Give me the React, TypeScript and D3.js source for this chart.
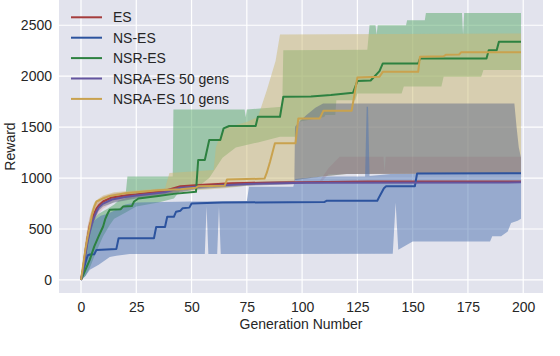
import React, { useEffect, useRef } from 'react';
import * as d3 from 'd3';

type Pt = [number, number];

// series, in legend order
const seriesNames = ['ES', 'NS-ES', 'NSR-ES', 'NSRA-ES 50 gens', 'NSRA-ES 10 gens'];
const lineColors = ['#a53c3c', '#2c539e', '#2d8140', '#64559f', '#c9a24e'];
const fillColors = ['#c44e52', '#4c72b0', '#55a868', '#606a86', '#ccb974'];
const fillOpacity = [0.18, 0.5, 0.5, 0.5, 0.5];
// green, tan, red, purple, blue -> gives the gray / olive overlaps
const fillOrder = [2, 4, 0, 3, 1];

const xTicks = [0, 25, 50, 75, 100, 125, 150, 175, 200];
const yTicks = [0, 500, 1000, 1500, 2000, 2500];

// ES
const esMean: Pt[] = [[0,0],[1,120],[2,280],[3,420],[4,540],[5,600],[6,650],[7,700],[8,730],[10,770],[14,810],[20,830],[25,840],[38,875],[45,920],[52,930],[68,950],[90,956],[111,962],[130,966],[199,966]];
const esUpper: Pt[] = [[0,0],[1,200],[2,380],[3,520],[4,620],[5,690],[6,730],[8,780],[10,820],[15,850],[25,870],[40,900],[52,945],[70,965],[108,975],[112,1100],[117,1210],[136.8,1210],[137.3,1060],[137.8,1210],[199,1210]];
const esLower: Pt[] = [[0,0],[1,60],[2,180],[3,320],[4,450],[5,520],[6,580],[8,650],[10,700],[15,770],[25,810],[40,850],[52,900],[70,935],[108,945],[112,1040],[199,1045]];

// NS-ES
const nsMean: Pt[] = [[0,0],[1,90],[2,170],[3,240],[4,250],[6,252],[7,295],[16,305],[17,410],[33,410],[34,520],[38,520],[39,620],[42,620],[43,670],[45,680],[46,705],[49,710],[50,750],[64,760],[110,765],[111,777],[134,777],[135,820],[137,900],[138,920],[151,920],[152,1045],[199,1048]];
const nsUpper: Pt[] = [[0,0],[1,150],[2,300],[3,420],[4,500],[5,560],[7,600],[9,630],[12,650],[15,680],[17,700],[20,740],[25,760],[50,770],[75,775],[76,915],[96,915],[97,990],[109,1015],[128.5,1015],[129.2,1700],[129.8,1700],[130.5,1020],[140,1040],[199,1048]];
const nsLower: Pt[] = [[0,0],[2,40],[4,100],[8,150],[13,225],[16,238],[22,255],[56,255],[56.8,720],[57.6,255],[61.6,255],[62.4,720],[63.2,255],[141,258],[142.3,757],[143.5,297],[150,378],[185,378],[186,430],[190,430],[193,476],[194.5,560],[197.5,580],[199,600]];

// NSR-ES
const nsrMean: Pt[] = [[0,0],[2,100],[4,200],[6,330],[8,430],[10,525],[11,600],[12,650],[13,690],[18,695],[19,720],[23,725],[24,770],[26,800],[35,825],[42,845],[52,865],[53,1178],[56,1178],[58,1374],[63,1374],[64.5,1488],[67,1511],[79,1511],[80,1602],[90,1602],[91.5,1798],[104,1800],[113,1815],[123,1837],[125,1952],[131,1958],[135,2050],[136.5,2125],[152.5,2125],[153.3,2174],[183.4,2174],[184.4,2255],[188,2255],[189,2337],[199,2337]];
const nsrUpper: Pt[] = [[0,0],[2,250],[4,480],[6,600],[8,650],[12,700],[15,740],[17,780],[20,800],[21,1015],[41.5,1015],[41.8,1674],[74,1674],[74.5,1600],[75,1674],[91,1700],[91.5,2255],[129.5,2260],[130.5,2500],[133.2,2500],[133.7,2410],[134.2,2500],[147,2500],[147.5,2549],[155.5,2549],[156,2620],[172.3,2620],[172.8,2410],[173.3,2620],[199,2620]];
const nsrLower: Pt[] = [[0,0],[2,40],[4,120],[6,230],[8,330],[10,430],[13,540],[15,600],[20,660],[25,720],[35,760],[42,800],[45,880],[52,900],[58,1000],[64,1200],[70,1300],[80,1350],[90,1406],[97,1406],[98,1550],[110,1600],[110.5,1619],[115,1619],[115.5,1765],[124,1765],[125,1831],[145,1831],[146,1900],[163,1900],[164,1994],[181,1994],[182,2060],[199,2060]];

// NSRA-ES 50 gens
const nsra50Mean: Pt[] = [[0,0],[1,100],[2,250],[3,380],[4,480],[5,560],[6,620],[7,670],[8,710],[10,750],[14,790],[20,815],[25,828],[38,860],[45,905],[52,915],[75,943],[102,955],[199,958]];
const nsra50Upper: Pt[] = [[0,0],[1,150],[2,300],[3,430],[4,530],[5,610],[6,660],[8,740],[10,780],[15,820],[25,850],[40,880],[52,935],[75,960],[96.5,975],[96.8,1504],[99,1560],[102,1620],[106,1690],[109.5,1733],[196,1733],[197,1500],[198,1300],[199,1200]];
const nsra50Lower: Pt[] = [[0,0],[1,60],[2,200],[3,330],[4,430],[5,510],[6,580],[8,680],[10,720],[15,760],[25,800],[40,840],[52,890],[75,925],[96.5,940],[96.8,982],[109,1015],[120,1040],[199,1045]];

// NSRA-ES 10 gens
const nsra10Mean: Pt[] = [[0,0],[1,150],[2,300],[3,420],[4,525],[5,640],[6,720],[7,770],[10,800],[13,825],[20,852],[35,880],[45,890],[52,905],[53,920],[65,925],[66,985],[83,995],[84,1050],[85.5,1161],[87.7,1341],[97,1341],[98.3,1586],[108,1586],[109.6,1660],[122.4,1660],[125,1988],[135,1995],[136.5,2043],[152.5,2043],[153.3,2190],[164,2196],[165,2210],[171,2213],[172,2236],[199,2236]];
const nsra10Upper: Pt[] = [[0,0],[1,200],[2,380],[3,520],[4,620],[5,700],[6,760],[8,800],[10,830],[15,860],[25,880],[38,900],[40,1050],[60,1080],[61,1300],[63,1420],[66,1500],[75,1550],[80,1600],[84,1860],[88,2150],[90,2410],[199,2420]];
const nsra10Lower: Pt[] = [[0,0],[1,80],[2,200],[3,330],[4,450],[5,560],[6,640],[8,720],[10,760],[15,800],[25,830],[45,860],[52,880],[65,900],[85,950],[96.5,960],[96.8,982],[109,1015],[120,1040],[199,1045]];

const means = [esMean, nsMean, nsrMean, nsra50Mean, nsra10Mean];
const uppers = [esUpper, nsUpper, nsrUpper, nsra50Upper, nsra10Upper];
const lowers = [esLower, nsLower, nsrLower, nsra50Lower, nsra10Lower];

const App = () => {
  const ref = useRef<SVGSVGElement>(null);

  useEffect(() => {
    const W = 560, H = 356;
    const left = 59, right = 543, top = 0, bottom = 293;
    const font = "'Liberation Sans', Arial, sans-serif";
    const svg = d3.select(ref.current).attr('width', W).attr('height', H);
    svg.selectAll('*').remove();
    svg.append('rect').attr('width', W).attr('height', H).attr('fill', '#fff');

    const x = d3.scaleLinear().domain([-9.95, 208.95]).range([left, right]);
    const y = d3.scaleLinear().domain([-128, 2748]).range([bottom, top]);

    svg.append('defs').append('clipPath').attr('id', 'plotclip')
      .append('rect').attr('x', left).attr('y', top)
      .attr('width', right - left).attr('height', bottom - top);

    svg.append('rect')
      .attr('x', left).attr('y', top)
      .attr('width', right - left).attr('height', bottom - top)
      .attr('fill', '#e2e3ed');

    // grid
    const grid = svg.append('g').attr('stroke', '#fff').attr('stroke-width', 1.2);
    grid.selectAll('.gx').data(xTicks).enter().append('line')
      .attr('x1', d => x(d)).attr('x2', d => x(d))
      .attr('y1', top).attr('y2', bottom);
    grid.selectAll('.gy').data(yTicks).enter().append('line')
      .attr('x1', left).attr('x2', right)
      .attr('y1', d => y(d)).attr('y2', d => y(d));

    const plot = svg.append('g').attr('clip-path', 'url(#plotclip)');
    const line = d3.line<Pt>().x(d => x(d[0])).y(d => y(d[1]));

    // bands
    fillOrder.forEach(i => {
      const pts = [...uppers[i], ...lowers[i].slice().reverse()];
      plot.append('path')
        .attr('d', line(pts) + 'Z')
        .attr('fill', fillColors[i])
        .attr('fill-opacity', fillOpacity[i])
        .attr('stroke', 'none');
    });

    // mean lines
    means.forEach((m, i) => {
      plot.append('path')
        .attr('d', line(m))
        .attr('fill', 'none')
        .attr('stroke', lineColors[i])
        .attr('stroke-width', 2)
        .attr('stroke-linejoin', 'round');
    });

    // axes
    const xAxis = svg.append('g')
      .attr('transform', `translate(0,${bottom})`)
      .call(d3.axisBottom(x).tickValues(xTicks).tickFormat(d3.format('d')).tickSize(0).tickPadding(9));
    const yAxis = svg.append('g')
      .attr('transform', `translate(${left},0)`)
      .call(d3.axisLeft(y).tickValues(yTicks).tickFormat(d3.format('d')).tickSize(0).tickPadding(7));
    [xAxis, yAxis].forEach(a => {
      a.select('.domain').remove();
      a.selectAll('text')
        .attr('font-family', font)
        .attr('font-size', 14)
        .attr('fill', '#262626');
    });

    svg.append('text')
      .attr('x', (left + right) / 2).attr('y', 329)
      .attr('text-anchor', 'middle')
      .attr('font-family', font).attr('font-size', 14).attr('fill', '#262626')
      .text('Generation Number');
    svg.append('text')
      .attr('transform', `translate(15,${(top + bottom) / 2}) rotate(-90)`)
      .attr('text-anchor', 'middle')
      .attr('font-family', font).attr('font-size', 14).attr('fill', '#262626')
      .text('Reward');

    // legend
    const legend = svg.append('g');
    seriesNames.forEach((name, i) => {
      const cy = 17.3 + i * 20.4;
      legend.append('line')
        .attr('x1', 71).attr('x2', 102).attr('y1', cy).attr('y2', cy)
        .attr('stroke', lineColors[i]).attr('stroke-width', 2);
      legend.append('text')
        .attr('x', 113).attr('y', cy + 5)
        .attr('font-family', font).attr('font-size', 14).attr('fill', '#262626')
        .text(name);
    });
  }, []);

  return (
    <svg ref={ref} style={{ position: 'absolute', left: 0, top: 0 }} />
  );
};

export default App;
